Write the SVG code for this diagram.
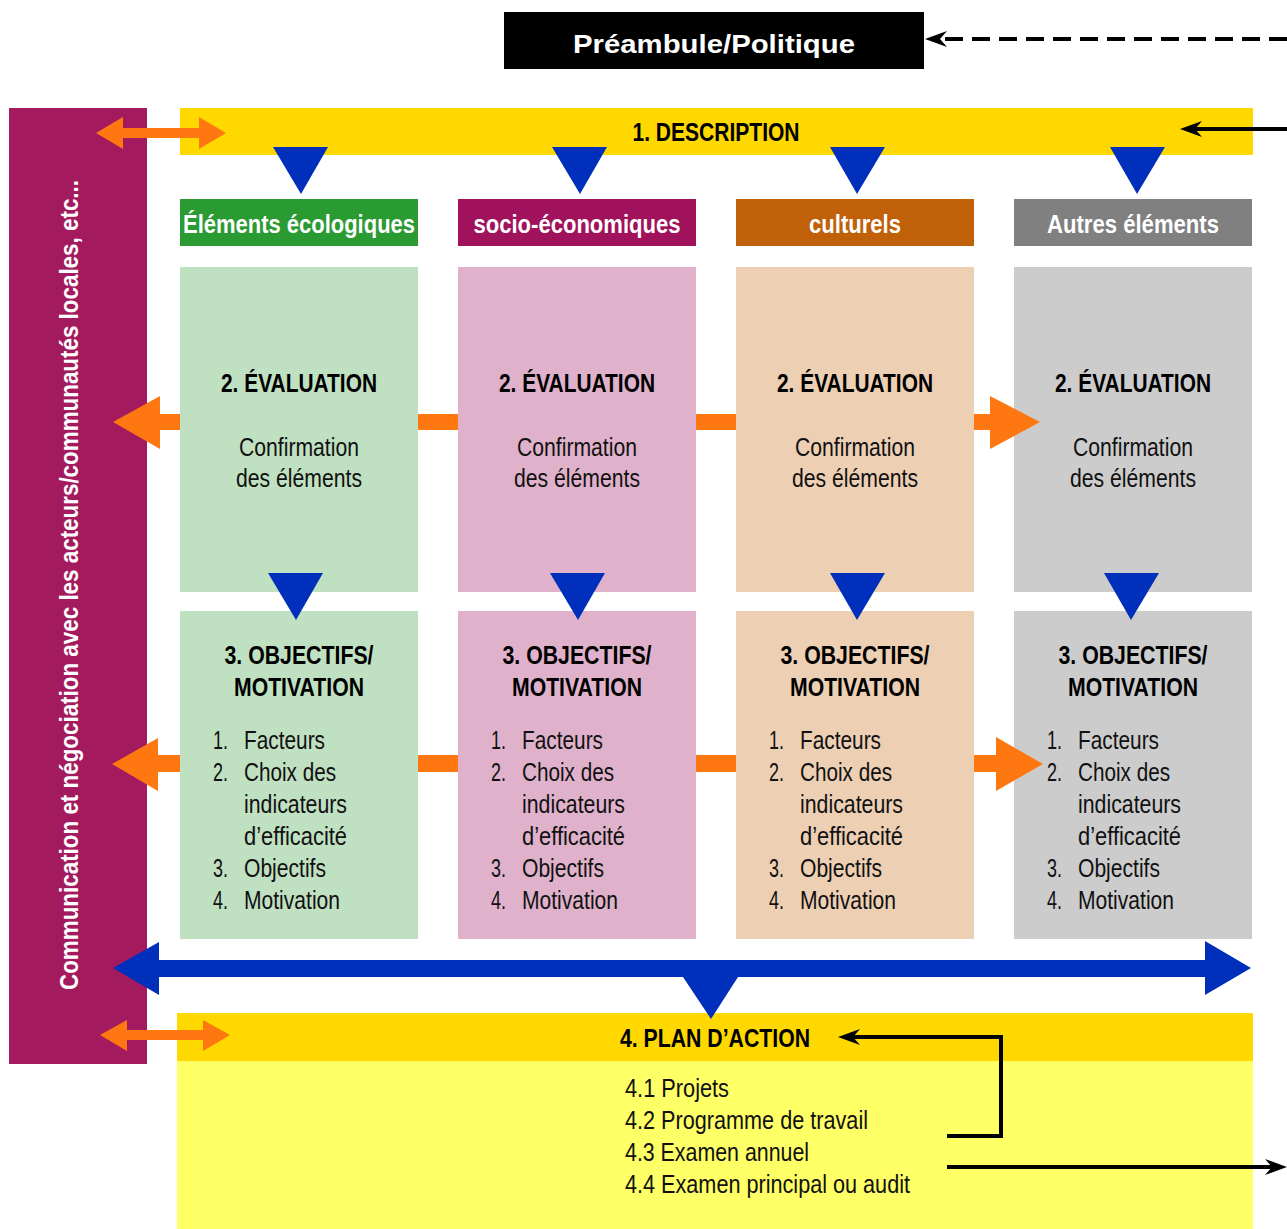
<svg xmlns="http://www.w3.org/2000/svg" width="1287" height="1229" viewBox="0 0 1287 1229">
<style>
.b{font-family:"Liberation Sans",Arial,sans-serif;font-weight:bold;font-size:25px;fill:#000}
.w{font-family:"Liberation Sans",Arial,sans-serif;font-weight:bold;font-size:25px;fill:#fff}
.r{font-family:"Liberation Sans",Arial,sans-serif;font-size:26px;fill:#111}
.c{text-anchor:middle}
.org{fill:#FF7710}
.blu{fill:#0030BB}
.ln{fill:none;stroke:#000;stroke-width:4}
</style>
<defs>
<marker id="ah" markerUnits="userSpaceOnUse" markerWidth="24" markerHeight="20" viewBox="-22 -10 24 20" refX="-12" refY="0" orient="auto">
<path d="M0,0 L-22,-8 L-15,0 L-22,8 Z" fill="#000"/>
</marker>
</defs>
<rect width="1287" height="1229" fill="#fff"/>

<g id="preambule">
<rect x="504" y="12" width="420" height="57" fill="#000"/>
<text class="w c" x="714" y="53" font-size="32" textLength="282" lengthAdjust="spacingAndGlyphs">Préambule/Politique</text>
</g>

<g id="communication">
<rect x="9" y="108" width="138" height="956" fill="#A31B5E"/>
<text class="w c" transform="translate(78,585) rotate(-90)" x="0" y="0" font-size="27" textLength="810" lengthAdjust="spacingAndGlyphs">Communication et négociation avec les acteurs/communautés locales, etc...</text>
</g>

<g id="description">
<rect x="180" y="108" width="1073" height="47" fill="#FFD800"/>
<text class="b c" x="716" y="141" textLength="167" lengthAdjust="spacingAndGlyphs">1. DESCRIPTION</text>
</g>

<g id="hdr-eco">
<rect x="180" y="199" width="238" height="47" fill="#2A9A33"/>
<text class="w c" x="299" y="233" textLength="232" lengthAdjust="spacingAndGlyphs">Éléments écologiques</text>
</g>
<g id="hdr-socio">
<rect x="458" y="199" width="238" height="47" fill="#A0125B"/>
<text class="w c" x="577" y="233" textLength="207" lengthAdjust="spacingAndGlyphs">socio-économiques</text>
</g>
<g id="hdr-cult">
<rect x="736" y="199" width="238" height="47" fill="#C06008"/>
<text class="w c" x="855" y="233" textLength="92" lengthAdjust="spacingAndGlyphs">culturels</text>
</g>
<g id="hdr-autres">
<rect x="1014" y="199" width="238" height="47" fill="#808080"/>
<text class="w c" x="1133" y="233" textLength="172" lengthAdjust="spacingAndGlyphs">Autres éléments</text>
</g>

<g id="eval-eco">
<rect x="180" y="267" width="238" height="325" fill="#C0E0C2"/>
<text class="b c" x="299" y="392" textLength="156" lengthAdjust="spacingAndGlyphs">2. ÉVALUATION</text>
<text class="r c" x="299" y="456" textLength="120" lengthAdjust="spacingAndGlyphs">Confirmation</text>
<text class="r c" x="299" y="487" textLength="126" lengthAdjust="spacingAndGlyphs">des éléments</text>
</g>
<g id="eval-socio">
<rect x="458" y="267" width="238" height="325" fill="#E0B1CB"/>
<text class="b c" x="577" y="392" textLength="156" lengthAdjust="spacingAndGlyphs">2. ÉVALUATION</text>
<text class="r c" x="577" y="456" textLength="120" lengthAdjust="spacingAndGlyphs">Confirmation</text>
<text class="r c" x="577" y="487" textLength="126" lengthAdjust="spacingAndGlyphs">des éléments</text>
</g>
<g id="eval-cult">
<rect x="736" y="267" width="238" height="325" fill="#EDCFB4"/>
<text class="b c" x="855" y="392" textLength="156" lengthAdjust="spacingAndGlyphs">2. ÉVALUATION</text>
<text class="r c" x="855" y="456" textLength="120" lengthAdjust="spacingAndGlyphs">Confirmation</text>
<text class="r c" x="855" y="487" textLength="126" lengthAdjust="spacingAndGlyphs">des éléments</text>
</g>
<g id="eval-autres">
<rect x="1014" y="267" width="238" height="325" fill="#CCCCCC"/>
<text class="b c" x="1133" y="392" textLength="156" lengthAdjust="spacingAndGlyphs">2. ÉVALUATION</text>
<text class="r c" x="1133" y="456" textLength="120" lengthAdjust="spacingAndGlyphs">Confirmation</text>
<text class="r c" x="1133" y="487" textLength="126" lengthAdjust="spacingAndGlyphs">des éléments</text>
</g>

<g id="obj-eco">
<rect x="180" y="611" width="238" height="328" fill="#C0E0C2"/>
<text class="b c" x="299" y="664" textLength="149" lengthAdjust="spacingAndGlyphs">3. OBJECTIFS/</text>
<text class="b c" x="299" y="696" textLength="130" lengthAdjust="spacingAndGlyphs">MOTIVATION</text>
<text class="r" x="213" y="749" textLength="15" lengthAdjust="spacingAndGlyphs">1.</text><text class="r" x="244" y="749" textLength="81" lengthAdjust="spacingAndGlyphs">Facteurs</text>
<text class="r" x="213" y="781" textLength="15" lengthAdjust="spacingAndGlyphs">2.</text><text class="r" x="244" y="781" textLength="92" lengthAdjust="spacingAndGlyphs">Choix des</text>
<text class="r" x="244" y="813" textLength="103" lengthAdjust="spacingAndGlyphs">indicateurs</text>
<text class="r" x="244" y="845" textLength="103" lengthAdjust="spacingAndGlyphs">d’efficacité</text>
<text class="r" x="213" y="877" textLength="15" lengthAdjust="spacingAndGlyphs">3.</text><text class="r" x="244" y="877" textLength="82" lengthAdjust="spacingAndGlyphs">Objectifs</text>
<text class="r" x="213" y="909" textLength="15" lengthAdjust="spacingAndGlyphs">4.</text><text class="r" x="244" y="909" textLength="96" lengthAdjust="spacingAndGlyphs">Motivation</text>
</g>
<g id="obj-socio">
<rect x="458" y="611" width="238" height="328" fill="#E0B1CB"/>
<text class="b c" x="577" y="664" textLength="149" lengthAdjust="spacingAndGlyphs">3. OBJECTIFS/</text>
<text class="b c" x="577" y="696" textLength="130" lengthAdjust="spacingAndGlyphs">MOTIVATION</text>
<text class="r" x="491" y="749" textLength="15" lengthAdjust="spacingAndGlyphs">1.</text><text class="r" x="522" y="749" textLength="81" lengthAdjust="spacingAndGlyphs">Facteurs</text>
<text class="r" x="491" y="781" textLength="15" lengthAdjust="spacingAndGlyphs">2.</text><text class="r" x="522" y="781" textLength="92" lengthAdjust="spacingAndGlyphs">Choix des</text>
<text class="r" x="522" y="813" textLength="103" lengthAdjust="spacingAndGlyphs">indicateurs</text>
<text class="r" x="522" y="845" textLength="103" lengthAdjust="spacingAndGlyphs">d’efficacité</text>
<text class="r" x="491" y="877" textLength="15" lengthAdjust="spacingAndGlyphs">3.</text><text class="r" x="522" y="877" textLength="82" lengthAdjust="spacingAndGlyphs">Objectifs</text>
<text class="r" x="491" y="909" textLength="15" lengthAdjust="spacingAndGlyphs">4.</text><text class="r" x="522" y="909" textLength="96" lengthAdjust="spacingAndGlyphs">Motivation</text>
</g>
<g id="obj-cult">
<rect x="736" y="611" width="238" height="328" fill="#EDCFB4"/>
<text class="b c" x="855" y="664" textLength="149" lengthAdjust="spacingAndGlyphs">3. OBJECTIFS/</text>
<text class="b c" x="855" y="696" textLength="130" lengthAdjust="spacingAndGlyphs">MOTIVATION</text>
<text class="r" x="769" y="749" textLength="15" lengthAdjust="spacingAndGlyphs">1.</text><text class="r" x="800" y="749" textLength="81" lengthAdjust="spacingAndGlyphs">Facteurs</text>
<text class="r" x="769" y="781" textLength="15" lengthAdjust="spacingAndGlyphs">2.</text><text class="r" x="800" y="781" textLength="92" lengthAdjust="spacingAndGlyphs">Choix des</text>
<text class="r" x="800" y="813" textLength="103" lengthAdjust="spacingAndGlyphs">indicateurs</text>
<text class="r" x="800" y="845" textLength="103" lengthAdjust="spacingAndGlyphs">d’efficacité</text>
<text class="r" x="769" y="877" textLength="15" lengthAdjust="spacingAndGlyphs">3.</text><text class="r" x="800" y="877" textLength="82" lengthAdjust="spacingAndGlyphs">Objectifs</text>
<text class="r" x="769" y="909" textLength="15" lengthAdjust="spacingAndGlyphs">4.</text><text class="r" x="800" y="909" textLength="96" lengthAdjust="spacingAndGlyphs">Motivation</text>
</g>
<g id="obj-autres">
<rect x="1014" y="611" width="238" height="328" fill="#CCCCCC"/>
<text class="b c" x="1133" y="664" textLength="149" lengthAdjust="spacingAndGlyphs">3. OBJECTIFS/</text>
<text class="b c" x="1133" y="696" textLength="130" lengthAdjust="spacingAndGlyphs">MOTIVATION</text>
<text class="r" x="1047" y="749" textLength="15" lengthAdjust="spacingAndGlyphs">1.</text><text class="r" x="1078" y="749" textLength="81" lengthAdjust="spacingAndGlyphs">Facteurs</text>
<text class="r" x="1047" y="781" textLength="15" lengthAdjust="spacingAndGlyphs">2.</text><text class="r" x="1078" y="781" textLength="92" lengthAdjust="spacingAndGlyphs">Choix des</text>
<text class="r" x="1078" y="813" textLength="103" lengthAdjust="spacingAndGlyphs">indicateurs</text>
<text class="r" x="1078" y="845" textLength="103" lengthAdjust="spacingAndGlyphs">d’efficacité</text>
<text class="r" x="1047" y="877" textLength="15" lengthAdjust="spacingAndGlyphs">3.</text><text class="r" x="1078" y="877" textLength="82" lengthAdjust="spacingAndGlyphs">Objectifs</text>
<text class="r" x="1047" y="909" textLength="15" lengthAdjust="spacingAndGlyphs">4.</text><text class="r" x="1078" y="909" textLength="96" lengthAdjust="spacingAndGlyphs">Motivation</text>
</g>

<g id="plan">
<rect x="177" y="1061" width="1076" height="168" fill="#FFFF66"/>
<rect x="177" y="1013" width="1076" height="48" fill="#FFD800"/>
<text class="b c" x="715" y="1047" textLength="190" lengthAdjust="spacingAndGlyphs">4. PLAN D’ACTION</text>
<text class="r" x="625" y="1097" textLength="104" lengthAdjust="spacingAndGlyphs">4.1 Projets</text>
<text class="r" x="625" y="1129" textLength="243" lengthAdjust="spacingAndGlyphs">4.2 Programme de travail</text>
<text class="r" x="625" y="1161" textLength="184" lengthAdjust="spacingAndGlyphs">4.3 Examen annuel</text>
<text class="r" x="625" y="1193" textLength="285" lengthAdjust="spacingAndGlyphs">4.4 Examen principal ou audit</text>
</g>

<g id="connectors">
<path class="ln" d="M1287,39 H937" stroke-dasharray="18 9" marker-end="url(#ah)"/>
<path class="ln" d="M1287,129 H1192" marker-end="url(#ah)"/>
<path class="ln" d="M947,1136 H1001 V1037 H850" marker-end="url(#ah)"/>
<path class="ln" d="M947,1167 H1275" marker-end="url(#ah)"/>

<polygon class="org" points="96,133 123,117 123,128 199,128 199,117 226,133 199,149 199,138 123,138 123,149"/>
<polygon class="org" points="100,1035 127,1020 127,1030 203,1030 203,1020 230,1035 203,1051 203,1040 127,1040 127,1051"/>

<polygon class="org" points="113,422 160,396 160,414 180,414 180,430 160,430 160,449"/>
<rect class="org" x="418" y="414" width="40" height="16"/>
<rect class="org" x="696" y="414" width="40" height="16"/>
<polygon class="org" points="974,414 990,414 990,396 1040,422 990,449 990,430 974,430"/>

<polygon class="org" points="112,764 158,738 158,755 180,755 180,772 158,772 158,791"/>
<rect class="org" x="418" y="755" width="40" height="17"/>
<rect class="org" x="696" y="755" width="40" height="17"/>
<polygon class="org" points="974,755 996,755 996,737 1043,764 996,791 996,772 974,772"/>

<polygon class="blu" points="273,147 328,147 301,194"/>
<polygon class="blu" points="552,147 607,147 580,194"/>
<polygon class="blu" points="830,147 885,147 857,194"/>
<polygon class="blu" points="1110,147 1165,147 1137,194"/>

<polygon class="blu" points="268,573 323,573 296,620"/>
<polygon class="blu" points="550,573 605,573 578,620"/>
<polygon class="blu" points="830,573 885,573 857,620"/>
<polygon class="blu" points="1104,573 1159,573 1131,620"/>

<polygon class="blu" points="113,968 159,942 159,960 1205,960 1205,941 1251,968 1205,995 1205,977 738,977 711,1019 683,977 159,977 159,995"/>
</g>
</svg>
